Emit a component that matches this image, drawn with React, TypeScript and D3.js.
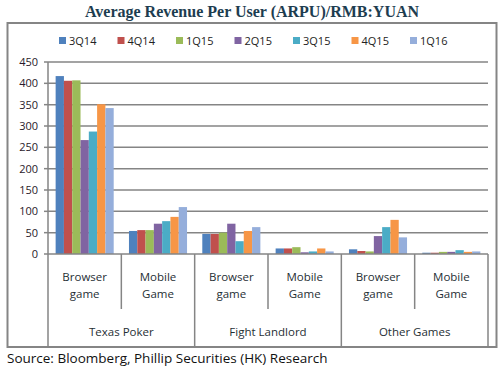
import React from 'react';
import * as d3 from 'd3';

// chart data
const series = ['3Q14', '4Q14', '1Q15', '2Q15', '3Q15', '4Q15', '1Q16'];
const colors = ['#4F81BD', '#C0504D', '#9BBB59', '#8064A2', '#4BACC6', '#F79646', '#95AEDB'];
const groups = ['Texas Poker', 'Fight Landlord', 'Other Games'];
const subLabels = [['Browser', 'game'], ['Mobile', 'Game']];
const categories = ['tp-b', 'tp-m', 'fl-b', 'fl-m', 'og-b', 'og-m'];

const texasBrowser = [417, 406, 407, 267, 287, 351, 342];
const texasMobile = [54, 56, 56, 71, 77, 87, 110];
const landlordBrowser = [47, 47, 50, 71, 30, 54, 63];
const landlordMobile = [13, 13, 16, 4, 6, 13, 6];
const otherBrowser = [11, 7, 6, 42, 63, 80, 39];
const otherMobile = [3, 3, 5, 5, 9, 5, 6];
const values = [texasBrowser, texasMobile, landlordBrowser, landlordMobile, otherBrowser, otherMobile];

const yTicks = [0, 50, 100, 150, 200, 250, 300, 350, 400, 450];

const W = 501;
const H = 368;
const font = "'Open Sans', 'DejaVu Sans', sans-serif";

export default function App() {
  const left = 48;
  const right = 488;
  const top = 62;
  const bottom = 254;

  const x = d3.scaleBand().domain(categories).range([left, right]);
  const inner = d3
    .scaleBand()
    .domain(series)
    .range([0, x.bandwidth()])
    .paddingInner(0)
    .paddingOuter(0.92);
  const y = d3.scaleLinear().domain([0, 450]).range([bottom, top]);

  const grey = '#858585';

  return (
    <div style={{ position: 'absolute', left: 0, top: 0 }}>
      <svg width={W} height={H} style={{ display: 'block', background: '#fff' }}>
        <text
          x={252}
          y={17}
          textAnchor="middle"
          fontFamily="'Liberation Serif', 'DejaVu Serif', serif"
          fontWeight="bold"
          fontSize={16}
          fill="#1d3d50"
        >
          Average Revenue Per User (ARPU)/RMB:YUAN
        </text>

        {/* outer frame */}
        <rect x={7.5} y={23} width={489} height={324} fill="none" stroke={grey} strokeWidth={2} />

        {/* legend */}
        {series.map((s, i) => (
          <g key={s} transform={`translate(${59 + i * 58.5},${37})`}>
            <rect width={7} height={7} fill={colors[i]} />
            <text x={10} y={7.5} fontFamily={font} fontSize={11} fill="#222">
              {s}
            </text>
          </g>
        ))}

        {/* gridlines */}
        {yTicks.slice(1).map((t) => (
          <line key={t} x1={left} x2={right} y1={y(t)} y2={y(t)} stroke={grey} strokeWidth={1.5} />
        ))}

        {/* y axis */}
        <line x1={left} x2={left} y1={top} y2={bottom} stroke={grey} strokeWidth={1.5} />
        {yTicks.map((t) => (
          <g key={t}>
            <line x1={left - 4} x2={left} y1={y(t)} y2={y(t)} stroke={grey} strokeWidth={1.5} />
            <text
              x={38}
              y={y(t) + 4}
              textAnchor="end"
              fontFamily={font}
              fontSize={11}
              fill="#2a1a2a"
            >
              {t}
            </text>
          </g>
        ))}

        {/* bars */}
        {values.map((vals, ci) => (
          <g key={categories[ci]} transform={`translate(${x(categories[ci])},0)`}>
            {vals.map((v, si) => (
              <rect
                key={si}
                x={inner(series[si])}
                y={y(v)}
                width={inner.bandwidth()}
                height={bottom - y(v)}
                fill={colors[si]}
              />
            ))}
          </g>
        ))}

        {/* x axis */}
        <line x1={left} x2={right} y1={bottom} y2={bottom} stroke={grey} strokeWidth={1.5} />
        {categories.map((c, i) => {
          const x0 = x(c) as number;
          const isGroupStart = i % 2 === 0;
          return (
            <line
              key={c}
              x1={x0}
              x2={x0}
              y1={bottom}
              y2={isGroupStart ? 347 : 309}
              stroke={grey}
              strokeWidth={1.5}
            />
          );
        })}
        <line x1={right} x2={right} y1={bottom} y2={347} stroke={grey} strokeWidth={1.5} />

        {categories.map((c, i) => {
          const cx = (x(c) as number) + x.bandwidth() / 2;
          const lines = subLabels[i % 2];
          return (
            <text key={c} textAnchor="middle" fontFamily={font} fontSize={11.5} fill="#1f2f35">
              <tspan x={cx} y={281}>
                {lines[0]}
              </tspan>
              <tspan x={cx} y={298}>
                {lines[1]}
              </tspan>
            </text>
          );
        })}

        {groups.map((g, gi) => {
          const cx = (x(categories[gi * 2]) as number) + x.bandwidth();
          return (
            <text key={g} x={cx} y={336} textAnchor="middle" fontFamily={font} fontSize={11.5} fill="#1f2f35">
              {g}
            </text>
          );
        })}

        <text x={7} y={363} fontFamily={font} fontSize={13.5} fill="#111">
          Source: Bloomberg, Phillip Securities (HK) Research
        </text>
      </svg>
    </div>
  );
}
